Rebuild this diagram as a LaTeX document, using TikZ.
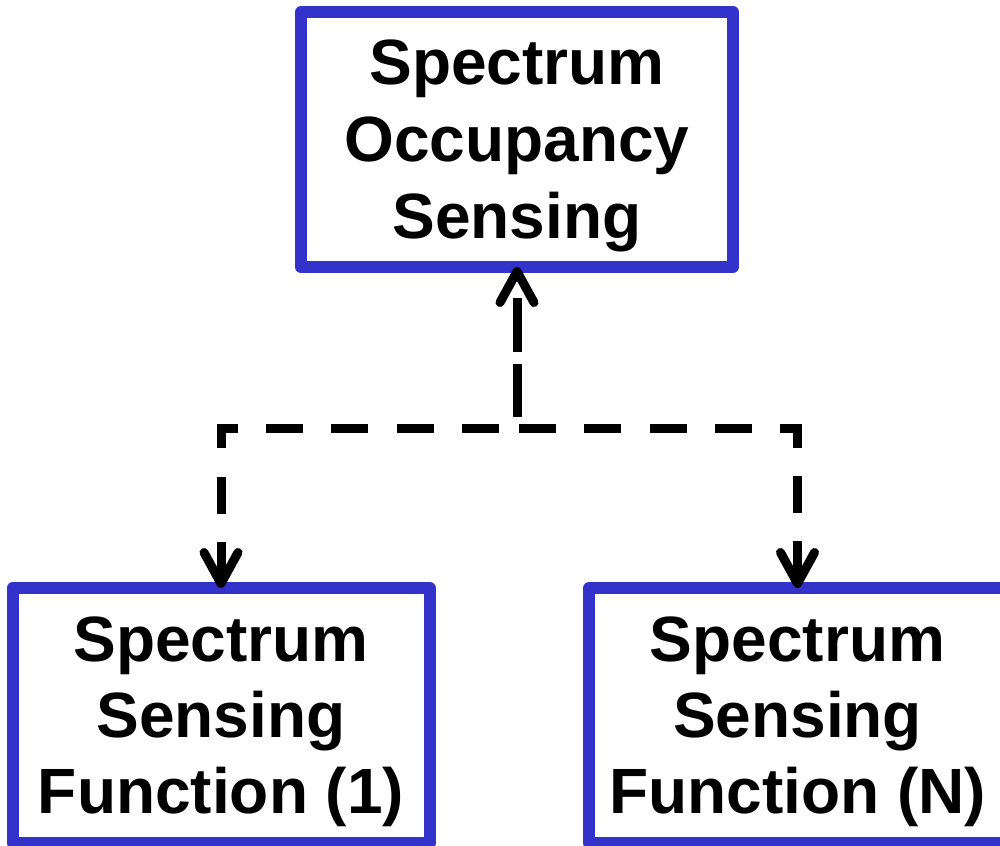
\documentclass[tikz,border=0pt]{standalone}
\usepackage{fontspec}
\setmainfont{Liberation Sans}
\usetikzlibrary{arrows.meta}
\definecolor{boxblue}{RGB}{51,51,204}
\begin{document}
\begin{tikzpicture}[x=1pt,y=1pt,
  box/.style={draw=boxblue, line width=12pt, line join=round, fill=white,
    inner sep=0pt, outer sep=0pt, align=center,
    font=\fontsize{64}{77}\selectfont\bfseries},
  lowbox/.style={box, minimum width=417pt, minimum height=255pt,
    font=\fontsize{64}{76}\selectfont\bfseries},
  dashline/.style={draw=black, line width=9pt, line join=miter, line cap=butt,
    -{Straight Barb[length=31pt,width=34pt,round]}}
]
\useasboundingbox (0,0) rectangle (1000,-845);
\node[box, minimum width=432pt, minimum height=255pt] (top) at (517,-139.5)
  {\rule{0pt}{57pt}Spectrum\\Occupancy\\Sensing};
\node[lowbox] (left) at (221,-715.5)
  {\rule{0pt}{57pt}Spectrum\\Sensing\\Function (1)};
\node[lowbox] (right) at (797.5,-715.5)
  {\rule{0pt}{57pt}Spectrum\\Sensing\\Function (N)};
\coordinate (mid) at (517,-428);
\draw[dashline, dash pattern=on 37pt off 28.3pt, dash phase=-2pt] (mid) -| (right.north);
\draw[dashline, dash pattern=on 37pt off 28.3pt, dash phase=47.3pt] (mid) -| (left.north);
\draw[dashline, dash pattern=on 53pt off 12pt on 54pt off 100pt, dash phase=208pt] (mid) -- (top.south);
\end{tikzpicture}
\end{document}
